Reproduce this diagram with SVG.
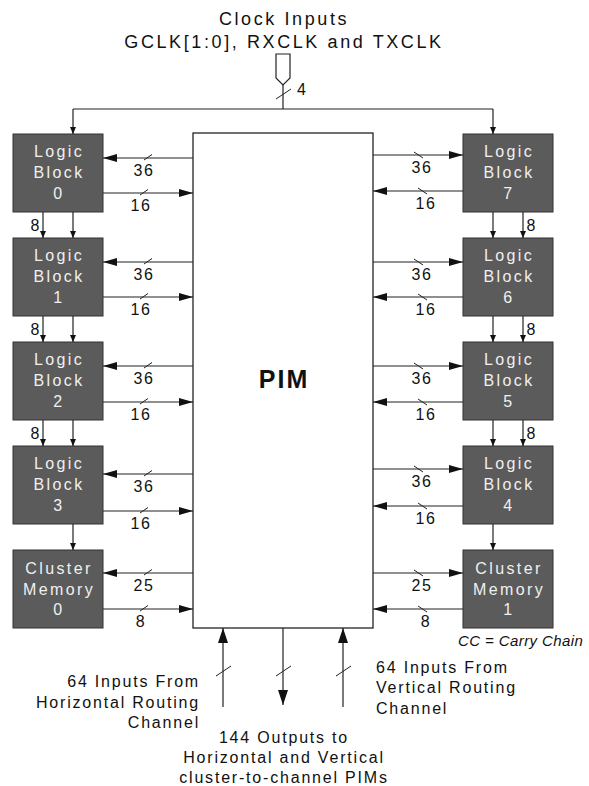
<svg xmlns="http://www.w3.org/2000/svg" width="589" height="786" viewBox="0 0 589 786">
<defs>
<style>
text{font-family:"Liberation Sans",Arial,sans-serif;fill:#111}
.blk rect{fill:#5b5b5b;stroke:#333;stroke-width:1}
.blk text{fill:#f0f0f0;font-size:16px;letter-spacing:2.4px;text-anchor:middle}
.ln{stroke:#222;stroke-width:1.2;fill:none}
.sl{stroke:#222;stroke-width:1;fill:none}
.lbl{font-size:16px;letter-spacing:1.5px;text-anchor:middle}
.c8{font-size:16px;text-anchor:middle}
.big{marker-end:url(#ab)}
.sm{marker-end:url(#as)}
.bt{marker-end:url(#abt)}
.cap{font-size:16px;letter-spacing:1.8px}
</style>
<marker id="ab" markerUnits="userSpaceOnUse" markerWidth="15" markerHeight="9" refX="14" refY="4" orient="auto"><path d="M0,0 L14,4 L0,8 Z" fill="#111"/></marker>
<marker id="as" markerUnits="userSpaceOnUse" markerWidth="8" markerHeight="7" refX="7" refY="3" orient="auto"><path d="M0,0 L7,3 L0,6 Z" fill="#111"/></marker>
<marker id="abt" markerUnits="userSpaceOnUse" markerWidth="16" markerHeight="11" refX="15" refY="5" orient="auto"><path d="M0,0 L15,5 L0,10 Z" fill="#111"/></marker>
</defs>

<g id="title">
<text x="284" y="25" style="font-size:18px;letter-spacing:2.6px" text-anchor="middle">Clock Inputs</text>
<text x="284" y="48" style="font-size:18px;letter-spacing:2.6px" text-anchor="middle">GCLK[1:0], RXCLK and TXCLK</text>
</g>

<g id="clock-input">
<path d="M276,54 H290 V78 L283,85 L276,78 Z" fill="#fff" stroke="#222" stroke-width="1.2"/>
<text x="297" y="95" class="lbl" style="text-anchor:start">4</text>
</g>

<g id="pim">
<rect x="193" y="133" width="180" height="495" fill="#fff" stroke="#111" stroke-width="1.2"/>
<text x="284" y="388" style="font-size:25px;font-weight:bold;letter-spacing:2px" text-anchor="middle">PIM</text>
</g>

<g id="lb0" class="blk"><rect x="13" y="134" width="90" height="78"/><text x="59" y="157">Logic</text><text x="59" y="178">Block</text><text x="59" y="199">0</text></g>
<g id="lb1" class="blk"><rect x="13" y="238" width="90" height="78"/><text x="59" y="261">Logic</text><text x="59" y="282">Block</text><text x="59" y="303">1</text></g>
<g id="lb2" class="blk"><rect x="13" y="342" width="90" height="78"/><text x="59" y="365">Logic</text><text x="59" y="386">Block</text><text x="59" y="407">2</text></g>
<g id="lb3" class="blk"><rect x="13" y="446" width="90" height="78"/><text x="59" y="469">Logic</text><text x="59" y="490">Block</text><text x="59" y="511">3</text></g>
<g id="cm0" class="blk"><rect x="13" y="550" width="90" height="78"/><text x="59" y="574">Cluster</text><text x="59" y="595">Memory</text><text x="59" y="615">0</text></g>

<g id="lb7" class="blk"><rect x="463" y="134" width="90" height="78"/><text x="509" y="157">Logic</text><text x="509" y="178">Block</text><text x="509" y="199">7</text></g>
<g id="lb6" class="blk"><rect x="463" y="238" width="90" height="78"/><text x="509" y="261">Logic</text><text x="509" y="282">Block</text><text x="509" y="303">6</text></g>
<g id="lb5" class="blk"><rect x="463" y="342" width="90" height="78"/><text x="509" y="365">Logic</text><text x="509" y="386">Block</text><text x="509" y="407">5</text></g>
<g id="lb4" class="blk"><rect x="463" y="446" width="90" height="78"/><text x="509" y="469">Logic</text><text x="509" y="490">Block</text><text x="509" y="511">4</text></g>
<g id="cm1" class="blk"><rect x="463" y="550" width="90" height="78"/><text x="509" y="574">Cluster</text><text x="509" y="595">Memory</text><text x="509" y="615">1</text></g>

<g id="connectors">
<!-- clock -->
<line class="ln" x1="283" y1="85" x2="283" y2="109"/>
<line class="sl" x1="276" y1="99" x2="291" y2="89"/>
<line class="ln" x1="73" y1="109" x2="493" y2="109"/>
<line class="ln sm" x1="73" y1="109" x2="73" y2="134"/>
<line class="ln sm" x1="493" y1="109" x2="493" y2="134"/>

<!-- left side -->
<line class="ln big" x1="193" y1="158" x2="103" y2="158"/><line class="sl" x1="144" y1="160" x2="152" y2="154.5"/><text class="lbl" x="144" y="176">36</text>
<line class="ln big" x1="103" y1="193" x2="193" y2="193"/><line class="sl" x1="140" y1="195" x2="148" y2="189.5"/><text class="lbl" x="141" y="211">16</text>
<line class="ln big" x1="193" y1="262" x2="103" y2="262"/><line class="sl" x1="144" y1="264" x2="152" y2="258.5"/><text class="lbl" x="144" y="280">36</text>
<line class="ln big" x1="103" y1="297" x2="193" y2="297"/><line class="sl" x1="140" y1="299" x2="148" y2="293.5"/><text class="lbl" x="141" y="315">16</text>
<line class="ln big" x1="193" y1="366" x2="103" y2="366"/><line class="sl" x1="144" y1="368" x2="152" y2="362.5"/><text class="lbl" x="144" y="384">36</text>
<line class="ln big" x1="103" y1="402" x2="193" y2="402"/><line class="sl" x1="140" y1="404" x2="148" y2="398.5"/><text class="lbl" x="141" y="420">16</text>
<line class="ln big" x1="193" y1="474" x2="103" y2="474"/><line class="sl" x1="144" y1="476" x2="152" y2="470.5"/><text class="lbl" x="144" y="492">36</text>
<line class="ln big" x1="103" y1="511" x2="193" y2="511"/><line class="sl" x1="140" y1="513" x2="148" y2="507.5"/><text class="lbl" x="141" y="529">16</text>
<line class="ln big" x1="193" y1="573" x2="103" y2="573"/><line class="sl" x1="144" y1="575" x2="152" y2="569.5"/><text class="lbl" x="144" y="591">25</text>
<line class="ln big" x1="103" y1="609" x2="193" y2="609"/><line class="sl" x1="140" y1="611" x2="148" y2="605.5"/><text class="lbl" x="141" y="627">8</text>

<!-- right side -->
<line class="ln big" x1="373" y1="155" x2="463" y2="155"/><line class="sl" x1="414" y1="152" x2="423" y2="158"/><text class="lbl" x="422" y="173">36</text>
<line class="ln big" x1="463" y1="191" x2="373" y2="191"/><line class="sl" x1="418" y1="188" x2="427" y2="194"/><text class="lbl" x="426" y="209">16</text>
<line class="ln big" x1="373" y1="262" x2="463" y2="262"/><line class="sl" x1="414" y1="259" x2="423" y2="265"/><text class="lbl" x="422" y="280">36</text>
<line class="ln big" x1="463" y1="297" x2="373" y2="297"/><line class="sl" x1="418" y1="294" x2="427" y2="300"/><text class="lbl" x="426" y="315">16</text>
<line class="ln big" x1="373" y1="366" x2="463" y2="366"/><line class="sl" x1="414" y1="363" x2="423" y2="369"/><text class="lbl" x="422" y="384">36</text>
<line class="ln big" x1="463" y1="402" x2="373" y2="402"/><line class="sl" x1="418" y1="399" x2="427" y2="405"/><text class="lbl" x="426" y="420">16</text>
<line class="ln big" x1="373" y1="469" x2="463" y2="469"/><line class="sl" x1="414" y1="466" x2="423" y2="472"/><text class="lbl" x="422" y="487">36</text>
<line class="ln big" x1="463" y1="506" x2="373" y2="506"/><line class="sl" x1="418" y1="503" x2="427" y2="509"/><text class="lbl" x="426" y="524">16</text>
<line class="ln big" x1="373" y1="573" x2="463" y2="573"/><line class="sl" x1="414" y1="570" x2="423" y2="576"/><text class="lbl" x="422" y="591">25</text>
<line class="ln big" x1="463" y1="609" x2="373" y2="609"/><line class="sl" x1="418" y1="606" x2="427" y2="612"/><text class="lbl" x="426" y="627">8</text>

<!-- inter-block left -->
<line class="ln sm" x1="43" y1="212" x2="43" y2="238"/><line class="ln sm" x1="73" y1="212" x2="73" y2="238"/><text class="c8" x="35" y="231">8</text>
<line class="ln sm" x1="43" y1="316" x2="43" y2="342"/><line class="ln sm" x1="73" y1="316" x2="73" y2="342"/><text class="c8" x="35" y="335">8</text>
<line class="ln sm" x1="43" y1="420" x2="43" y2="446"/><line class="ln sm" x1="73" y1="420" x2="73" y2="446"/><text class="c8" x="35" y="439">8</text>
<line class="ln sm" x1="73" y1="524" x2="73" y2="550"/>

<!-- inter-block right -->
<line class="ln sm" x1="493" y1="212" x2="493" y2="238"/><line class="ln sm" x1="523" y1="212" x2="523" y2="238"/><text class="c8" x="531" y="231">8</text>
<line class="ln sm" x1="493" y1="316" x2="493" y2="342"/><line class="ln sm" x1="523" y1="316" x2="523" y2="342"/><text class="c8" x="531" y="335">8</text>
<line class="ln sm" x1="493" y1="420" x2="493" y2="446"/><line class="ln sm" x1="523" y1="420" x2="523" y2="446"/><text class="c8" x="531" y="439">8</text>
<line class="ln sm" x1="493" y1="524" x2="493" y2="550"/>

<!-- bottom -->
<line class="ln bt" x1="223" y1="707" x2="223" y2="628"/><line class="sl" x1="216" y1="676" x2="231" y2="666"/>
<line class="ln bt" x1="283" y1="628" x2="283" y2="705"/><line class="sl" x1="276" y1="676" x2="291" y2="666"/>
<line class="ln bt" x1="343" y1="707" x2="343" y2="628"/><line class="sl" x1="336" y1="676" x2="351" y2="666"/>
</g>

<g id="notes">
<text x="458" y="646" style="font-size:15px;font-style:italic;letter-spacing:0.4px">CC = Carry Chain</text>
<text class="cap" x="200" y="687" text-anchor="end">64 Inputs From</text>
<text class="cap" x="200" y="708" text-anchor="end">Horizontal Routing</text>
<text class="cap" x="200" y="728" text-anchor="end">Channel</text>
<text class="cap" x="376" y="673">64 Inputs From</text>
<text class="cap" x="376" y="693">Vertical Routing</text>
<text class="cap" x="376" y="714">Channel</text>
<text class="cap" x="284" y="743" text-anchor="middle">144 Outputs to</text>
<text class="cap" x="284" y="763" text-anchor="middle">Horizontal and Vertical</text>
<text class="cap" x="284" y="783" text-anchor="middle">cluster-to-channel PIMs</text>
</g>
</svg>
